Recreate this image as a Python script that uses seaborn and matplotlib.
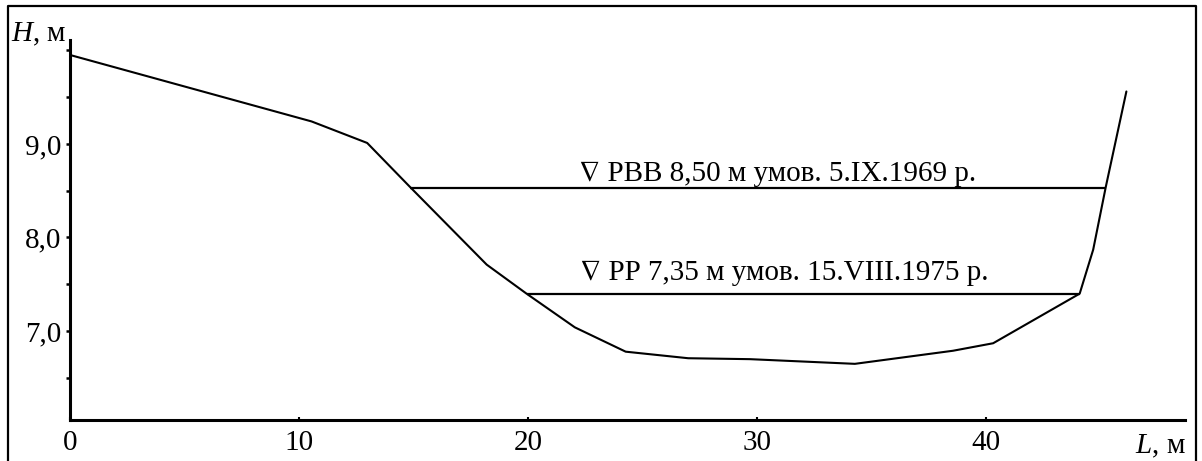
import matplotlib
matplotlib.use("Agg")
import matplotlib.pyplot as plt
from matplotlib.lines import Line2D
from matplotlib.ticker import FixedLocator, MultipleLocator, FuncFormatter
import seaborn as sns

# cross-section profile
L = [0, 10.55, 12.98, 14.85, 18.2, 19.94, 22.05, 24.27, 27.0, 29.7,
     34.28, 38.57, 40.32, 44.1, 44.69, 45.24, 46.14]
H = [9.95, 9.24, 9.01, 8.54, 7.71, 7.40, 7.04, 6.78, 6.71, 6.70,
     6.65, 6.79, 6.87, 7.40, 7.87, 8.54, 9.56]

# water levels: drawn height, start and end along L, caption
level_h = [8.53, 7.40]
level_x0 = [14.85, 19.94]
level_x1 = [45.24, 44.1]
level_text = ["∇ РВВ 8,50 м умов. 5.ІХ.1969 р.",
              "∇ РР 7,35 м умов. 15.VIII.1975 р."]

x_ticks = [0, 10, 20, 30, 40]
y_ticks = [7, 8, 9]

sns.set_theme(style="white")
plt.rcParams["font.family"] = ["Liberation Serif", "STIXGeneral", "DejaVu Serif"]
plt.rcParams["mathtext.fontset"] = "custom"
plt.rcParams["mathtext.it"] = "Liberation Serif:italic"
plt.rcParams["mathtext.rm"] = "Liberation Serif"

fs = 21

fig = plt.figure(figsize=(12.02, 4.61), dpi=100)
ax = fig.add_axes([70 / 1202, 1 - 420 / 461, (1185 - 70) / 1202, (420 - 40) / 461])

sns.lineplot(x=L, y=H, color="black", lw=1.5, sort=False, ax=ax)
ax.hlines(level_h, level_x0, level_x1, color="black", lw=1.6)

# caption centres along L and lift above the line (points)
text_x = [30.9, 31.2]
offsets = [5, 9.5]
for h, t, tx, off in zip(level_h, level_text, text_x, offsets):
    ax.annotate(t, xy=(tx, h), xytext=(0, off), textcoords="offset points",
                ha="center", va="baseline", fontsize=fs, color="black")

ax.set_xlim(0, 48.7)
ax.set_ylim(6.05, 10.11)

for s in ["top", "right"]:
    ax.spines[s].set_visible(False)
for s in ["left", "bottom"]:
    ax.spines[s].set_color("black")
    ax.spines[s].set_linewidth(2.2)

ax.xaxis.set_major_locator(FixedLocator(x_ticks))
ax.yaxis.set_major_locator(FixedLocator(y_ticks))
ax.yaxis.set_minor_locator(MultipleLocator(0.5))
ax.yaxis.set_major_formatter(FuncFormatter(lambda v, p: f"{v:.1f}".replace(".", ",")))

ax.tick_params(axis="x", which="major", direction="in", length=2.5, width=1.5,
               colors="black", labelsize=fs, pad=7, bottom=True)
ax.tick_params(axis="y", which="both", direction="out", length=3, width=1.8,
               colors="black", labelsize=fs, pad=3, left=True)
ax.set_xlabel("")
ax.set_ylabel("")

fig.text(67 / 1202, 1 - 41 / 461, "$H$, м", ha="right", va="baseline",
         fontsize=fs, color="black")
fig.text(1186 / 1202, 1 - 453 / 461, "$L$, м", ha="right", va="baseline",
         fontsize=fs, color="black")

# outer frame of the picture (bottom edge is cut off)
fig.add_artist(Line2D([7.5 / 1202, 7.5 / 1202, 1196 / 1202, 1196 / 1202],
                      [0, 1 - 6 / 461, 1 - 6 / 461, 0],
                      transform=fig.transFigure, color="black", lw=1.6))

fig.savefig("out.png", dpi=100)
